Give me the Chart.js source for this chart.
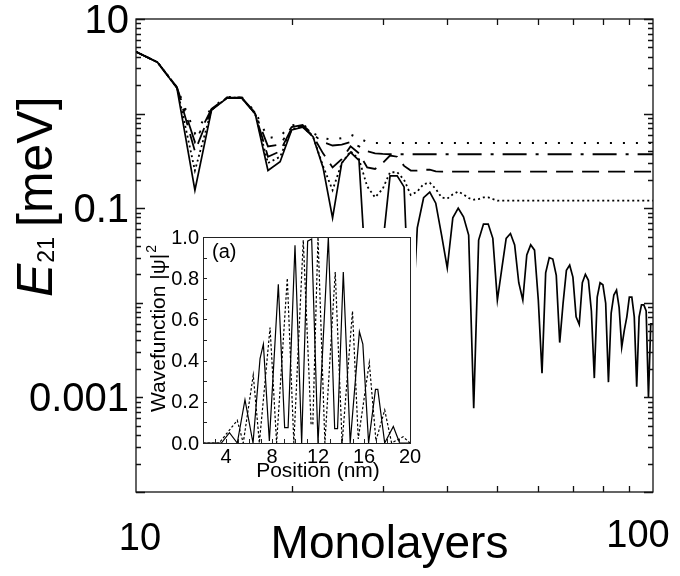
<!DOCTYPE html>
<html>
<head>
<meta charset="utf-8">
<script src="https://cdn.jsdelivr.net/npm/chart.js@4.4.1/dist/chart.umd.min.js"></script>
<style>
  body { margin: 0; background: #fff; }
  #wrap { position: relative; width: 680px; height: 576px; }
  #inset { position: absolute; left: 143px; top: 228px; }
</style>
</head>
<body>
<div id="wrap">
  <canvas id="main" width="680" height="576"></canvas>
  <canvas id="inset" width="282" height="256"></canvas>
</div>
<script>
const FONT = '"Liberation Sans", Arial, Helvetica, sans-serif';

// main plot: E21 vs number of monolayers
const monolayers = [10, 11, 12, 13, 14, 15, 16, 17, 18, 19, 20, 21, 22, 23, 24, 25, 26, 27, 28, 29,
  30, 31, 32, 33, 34, 35, 36, 37, 38, 39, 40, 41, 42, 43, 44, 45, 46, 47, 48, 49,
  50, 51, 52, 53, 54, 55, 56, 57, 58, 59, 60, 61, 62, 63, 64, 65, 66, 67, 68, 69,
  70, 71, 72, 73, 74, 75, 76, 77, 78, 79, 80, 81, 82, 83, 84, 85, 86, 87, 88, 89,
  90, 91, 92, 93, 94, 95, 96, 97, 98, 99, 100];
const eSolid = [4.5, 3.5, 1.86, 0.155, 1.09, 1.46, 1.46, 1.0, 0.25, 0.31,
  0.67, 0.72, 0.57, 0.27, 0.079, 0.30, 0.39, 0.32, 0.012, 0.0008,
  0.04, 0.22, 0.22, 0.168, 0.003, 0.062, 0.129, 0.148, 0.113, 0.052,
  0.0233, 0.079, 0.1, 0.081, 0.052, 0.00077, 0.046, 0.068, 0.068, 0.048,
  0.0107, 0.023, 0.048, 0.054, 0.041, 0.0163, 0.0107, 0.032, 0.041, 0.036,
  0.0107, 0.0018, 0.0207, 0.030, 0.029, 0.0195, 0.0038, 0.0099, 0.022, 0.025,
  0.0187, 0.0071, 0.0059, 0.0163, 0.020, 0.0173, 0.0082, 0.0016, 0.0115, 0.0163,
  0.0155, 0.0099, 0.00145, 0.0078, 0.0121, 0.0136, 0.0089, 0.0034, 0.0051, 0.0071,
  0.0115, 0.0115, 0.0071, 0.0013, 0.0071, 0.0095, 0.0095, 0.0082, 0.001, 0.006, 0.006];

// the other four curves level off, so they are read at fewer points
const mlPlateau = [10, 11, 12, 13, 14, 15, 16, 17, 18, 19, 20, 21, 22, 23, 24, 25, 26, 27, 28, 29,
  30, 31, 32, 33, 34, 35, 36, 37, 38, 39, 40, 41, 42, 43, 44, 45, 46, 47, 48, 49,
  50, 60, 70, 80, 90, 100];
const eTopDotted = [4.5, 3.5, 1.9, 0.62, 1.15, 1.5, 1.5, 1.05, 0.55, 0.58,
  0.75, 0.78, 0.62, 0.55, 0.53, 0.55, 0.6, 0.55, 0.5, 0.49,
  0.49, 0.49, 0.49, 0.49, 0.49, 0.49, 0.49, 0.49, 0.49, 0.49,
  0.49, 0.49, 0.49, 0.49, 0.49, 0.49, 0.49, 0.49, 0.49, 0.49,
  0.49, 0.49, 0.49, 0.49, 0.49, 0.49];
const eDashDot = [4.5, 3.5, 1.9, 0.5, 1.12, 1.48, 1.48, 1.02, 0.45, 0.47,
  0.72, 0.76, 0.6, 0.5, 0.46, 0.47, 0.5, 0.45, 0.4, 0.38,
  0.375, 0.372, 0.372, 0.372, 0.372, 0.372, 0.372, 0.372, 0.372, 0.372,
  0.372, 0.372, 0.372, 0.372, 0.372, 0.372, 0.372, 0.372, 0.372, 0.372,
  0.372, 0.372, 0.372, 0.372, 0.372, 0.372];
const eDashed = [4.5, 3.5, 1.88, 0.4, 1.1, 1.47, 1.47, 1.0, 0.35, 0.4,
  0.7, 0.74, 0.58, 0.38, 0.27, 0.33, 0.45, 0.38, 0.27, 0.26,
  0.3, 0.36, 0.35, 0.28, 0.25, 0.25, 0.255, 0.255, 0.245, 0.243,
  0.243, 0.243, 0.243, 0.243, 0.243, 0.243, 0.243, 0.243, 0.243, 0.243,
  0.243, 0.243, 0.243, 0.243, 0.243, 0.243];
const eFineDotted = [4.5, 3.5, 1.87, 0.25, 1.1, 1.47, 1.47, 1.0, 0.3, 0.35,
  0.68, 0.73, 0.57, 0.28, 0.155, 0.3, 0.4, 0.33, 0.17, 0.13,
  0.16, 0.24, 0.24, 0.2, 0.138, 0.15, 0.18, 0.186, 0.16, 0.13,
  0.126, 0.14, 0.15, 0.14, 0.128, 0.123, 0.125, 0.13, 0.13, 0.125,
  0.12, 0.12, 0.12, 0.12, 0.12, 0.12];

const yTickValues = [10, 0.1, 0.001];
const yTickLabels = ['10', '0.1', '0.001'];
const xTickValues = [10, 100];
const xTickLabels = ['10', '100'];

// inset (a): wavefunctions vs position
const posSolid = [2, 3.6, 4.3, 4.98, 5.65, 6.35, 6.96, 7.25, 7.77, 8.55, 9.1, 9.4, 10.0, 10.58,
  11.1, 11.45, 12.0, 12.9, 13.45, 13.7, 14.2, 14.8, 15.6, 15.9, 16.4, 17.0, 17.2, 17.8, 18.55, 19.1, 20];
const psiSolid = [0, 0, 0.05, 0.0, 0.21, 0.0, 0.41, 0.48, 0.01, 0.77, 0.075, 0.075, 0.96, 0.0,
  0.98, 0.99, 0.0, 1.0, 0.07, 0.07, 0.83, 0.0, 0.54, 0.48, 0.0, 0.26, 0.26, 0.0, 0.08, 0.0, 0];
const posDotted = [2, 3.4, 4.98, 5.5, 6.37, 6.9, 7.83, 8.4, 9.33, 9.9, 10.72, 11.4, 11.55, 12.0,
  12.6, 13.5, 14.1, 15.0, 15.5, 16.46, 17.04, 17.8, 18.4, 19.4, 20];
const psiDotted = [0, 0, 0.11, 0.0, 0.33, 0.0, 0.56, 0.0, 0.8, 0.0, 0.985, 0.09, 0.09, 1.0,
  0.0, 0.83, 0.0, 0.64, 0.02, 0.39, 0.01, 0.16, 0.0, 0.03, 0];
const insetXTicks = [4, 8, 12, 16, 20];
const insetYTicks = [0, 0.2, 0.4, 0.6, 0.8, 1.0];

function pairs(xs, ys) {
  return xs.map((v, i) => ({ x: v, y: ys[i] }));
}

const mainDecor = {
  id: 'mainDecor',
  afterDraw(chart) {
    const { ctx, chartArea: a } = chart;
    const x = chart.scales.x, y = chart.scales.y;
    ctx.save();
    ctx.strokeStyle = '#111';
    ctx.lineWidth = 1.3;
    ctx.strokeRect(a.left, a.top, a.right - a.left, a.bottom - a.top);
    ctx.beginPath();
    for (let d = -4; d <= 1; d++) {
      for (let m = 1; m <= 9; m++) {
        const v = m * Math.pow(10, d);
        if (v > y.max * 1.0001) continue;
        const p = Math.round(y.getPixelForValue(v)) + 0.5;
        const len = m === 1 ? 9 : 5;
        ctx.moveTo(a.left, p); ctx.lineTo(a.left + len, p);
        ctx.moveTo(a.right, p); ctx.lineTo(a.right - len, p);
      }
    }
    for (let m = 2; m <= 9; m++) {
      const p = Math.round(x.getPixelForValue(m * 10)) + 0.5;
      ctx.moveTo(p, a.top); ctx.lineTo(p, a.top + 6);
      ctx.moveTo(p, a.bottom); ctx.lineTo(p, a.bottom - 6);
    }
    ctx.stroke();

    ctx.fillStyle = '#000';
    ctx.font = '40px ' + FONT;
    ctx.textAlign = 'right';
    ctx.textBaseline = 'middle';
    yTickValues.forEach((v, i) => {
      ctx.fillText(yTickLabels[i], a.left - 7, y.getPixelForValue(v) + 3);
    });
    ctx.textAlign = 'center';
    ctx.textBaseline = 'alphabetic';
    ctx.font = '38px ' + FONT;
    ctx.fillText(xTickLabels[0], x.getPixelForValue(xTickValues[0]) + 4, a.bottom + 58);
    ctx.fillText(xTickLabels[1], x.getPixelForValue(xTickValues[1]) - 15, a.bottom + 55);
    ctx.font = '46px ' + FONT;
    ctx.fillText('Monolayers', (a.left + a.right) / 2 - 5, a.bottom + 66);

    // y title: E21 [meV] with italic E and subscript 21
    ctx.translate(52, 297);
    ctx.rotate(-Math.PI / 2);
    ctx.textAlign = 'left';
    ctx.font = 'italic 50px ' + FONT;
    ctx.fillText('E', 0, 0);
    const wE = ctx.measureText('E').width;
    ctx.font = '23px ' + FONT;
    ctx.fillText('21', wE + 1, 2);
    ctx.font = '50px ' + FONT;
    ctx.fillText('[meV]', 70, 0);
    ctx.restore();
  }
};

new Chart(document.getElementById('main').getContext('2d'), {
  type: 'line',
  data: {
    datasets: [
      { data: pairs(mlPlateau, eTopDotted), borderDash: [2, 11], borderWidth: 2 },
      { data: pairs(mlPlateau, eDashDot), borderDash: [24, 9, 3, 9], borderWidth: 1.8 },
      { data: pairs(mlPlateau, eDashed), borderDash: [17, 9], borderWidth: 1.8 },
      { data: pairs(mlPlateau, eFineDotted), borderDash: [2, 3], borderWidth: 1.8 },
      { data: pairs(monolayers, eSolid), borderWidth: 1.7 }
    ]
  },
  options: {
    responsive: false,
    animation: false,
    layout: { padding: { left: 136, right: 27, top: 19, bottom: 84 } },
    plugins: { legend: { display: false }, tooltip: { enabled: false } },
    elements: {
      point: { radius: 0 },
      line: { tension: 0, borderColor: '#000', borderCapStyle: 'butt', borderJoinStyle: 'miter' }
    },
    scales: {
      x: { type: 'logarithmic', min: 10, max: 100, display: false },
      y: { type: 'logarithmic', min: 0.0001, max: 10, display: false }
    }
  },
  plugins: [mainDecor]
});

const insetDecor = {
  id: 'insetDecor',
  beforeDraw(chart) {
    // white backing only up to just right of the frame; the "20" label may spill past it
    const { ctx, chartArea: a } = chart;
    ctx.save();
    ctx.fillStyle = '#fff';
    ctx.fillRect(0, 0, a.right + 6, chart.height);
    ctx.restore();
  },
  afterDraw(chart) {
    const { ctx, chartArea: a } = chart;
    const x = chart.scales.x, y = chart.scales.y;
    ctx.save();
    ctx.strokeStyle = '#222';
    ctx.lineWidth = 1;
    ctx.strokeRect(a.left + 0.5, a.top + 0.5, a.right - a.left, a.bottom - a.top);
    ctx.beginPath();
    for (let v = 3; v <= 19; v++) {
      const p = Math.round(x.getPixelForValue(v)) + 0.5;
      ctx.moveTo(p, a.bottom); ctx.lineTo(p, a.bottom - 4);
    }
    for (let k = 1; k <= 9; k++) {
      const p = Math.round(y.getPixelForValue(k / 10)) + 0.5;
      ctx.moveTo(a.left, p); ctx.lineTo(a.left + 4, p);
    }
    ctx.stroke();

    ctx.fillStyle = '#000';
    ctx.font = '20px ' + FONT;
    ctx.textAlign = 'right';
    ctx.textBaseline = 'middle';
    insetYTicks.forEach((v) => {
      ctx.fillText(v.toFixed(1), a.left - 4, y.getPixelForValue(v) + 1);
    });
    ctx.textAlign = 'center';
    ctx.textBaseline = 'alphabetic';
    insetXTicks.forEach((v) => {
      ctx.fillText(String(v), x.getPixelForValue(v), a.bottom + 20);
    });
    ctx.font = '21px ' + FONT;
    ctx.fillText('Position (nm)', x.getPixelForValue(12), a.bottom + 34);
    ctx.textAlign = 'left';
    ctx.font = '20px ' + FONT;
    ctx.fillText('(a)', a.left + 9, a.top + 21);

    ctx.translate(a.left - 38, a.bottom - 31);
    ctx.rotate(-Math.PI / 2);
    ctx.font = '21px ' + FONT;
    ctx.fillText('Wavefunction |\u03c8|', 0, 0);
    const w = ctx.measureText('Wavefunction |\u03c8|').width;
    ctx.font = '14px ' + FONT;
    ctx.fillText('2', w + 1, -9);
    ctx.restore();
  }
};

new Chart(document.getElementById('inset').getContext('2d'), {
  type: 'line',
  data: {
    datasets: [
      { data: pairs(posDotted, psiDotted), borderDash: [2.5, 2] },
      { data: pairs(posSolid, psiSolid) }
    ]
  },
  options: {
    responsive: false,
    animation: false,
    layout: { padding: { left: 60, right: 15, top: 9, bottom: 41 } },
    plugins: { legend: { display: false }, tooltip: { enabled: false } },
    elements: {
      point: { radius: 0 },
      line: { tension: 0, borderColor: '#000', borderWidth: 1.2, borderJoinStyle: 'miter' }
    },
    scales: {
      x: { type: 'linear', min: 2, max: 20, display: false },
      y: { type: 'linear', min: 0, max: 1, display: false }
    }
  },
  plugins: [insetDecor]
});
</script>
</body>
</html>
